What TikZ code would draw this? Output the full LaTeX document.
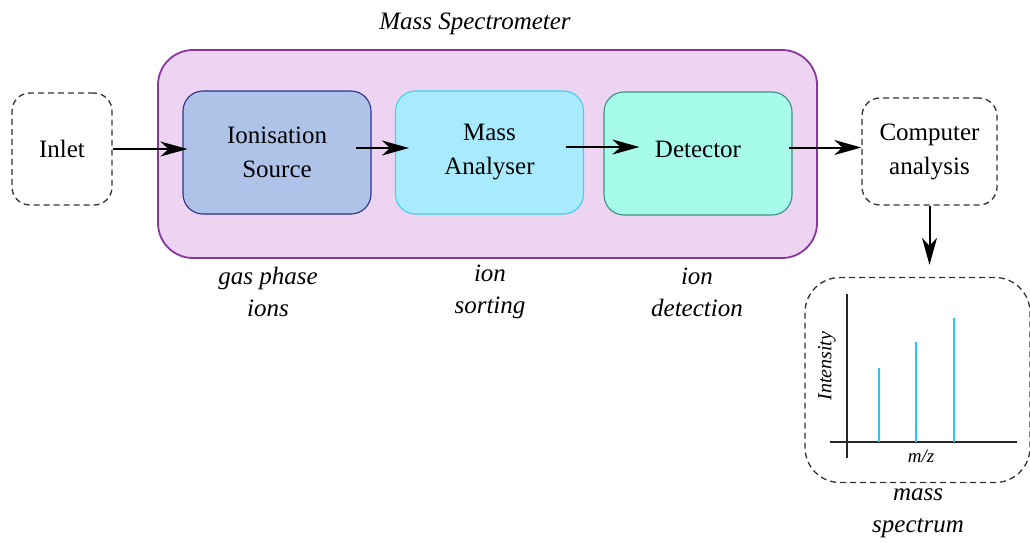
\documentclass[tikz,border=0pt]{standalone}
\usepackage{fontspec}
\setmainfont{Liberation Serif}
\usepackage{xcolor}
\usetikzlibrary{arrows.meta,positioning,calc}

\definecolor{specfill}{HTML}{EDD5F2}
\definecolor{specdraw}{HTML}{8B34A0}
\definecolor{srcfill}{HTML}{AEC3E7}
\definecolor{srcdraw}{HTML}{2E2E8E}
\definecolor{anafill}{HTML}{A9EBFE}
\definecolor{anadraw}{HTML}{3FCFF5}
\definecolor{detfill}{HTML}{A6FBEA}
\definecolor{detdraw}{HTML}{3C8F86}
\definecolor{peak}{HTML}{22C8F8}

\begin{document}
\begin{tikzpicture}[
    >={Stealth[length=27pt,width=15pt,inset=8pt]},
    x=1pt, y=-1pt,
    stage/.style={draw,rounded corners=20pt,minimum width=188pt,minimum height=123pt,
                  inner sep=0pt,line width=1.1pt,align=center,
                  font=\fontsize{25}{34}\selectfont},
    srcbox/.style={stage,fill=srcfill,draw=srcdraw},
    anabox/.style={stage,fill=anafill,draw=anadraw},
    detbox/.style={stage,fill=detfill,draw=detdraw},
    outbox/.style={draw=black!80,dashed,dash pattern=on 6pt off 4pt,line width=1.3pt,
                   rounded corners=18pt,inner sep=0pt,align=center,
                   font=\fontsize{25}{34}\selectfont},
    note/.style={align=center,font=\fontsize{25}{32}\itshape\selectfont},
    flow/.style={->,line width=2pt},
  ]
  \useasboundingbox (0,0) rectangle (1030,542);

  % --- the instrument ---
  \node[draw=specdraw,fill=specfill,line width=1.8pt,rounded corners=35pt,
        minimum width=659pt,minimum height=208pt] (ms) at (487.5,154) {};
  \node[note] (mslabel) at (475,24) {Mass Spectrometer};

  \node[srcbox] (src) at (277,152.5) {Ionisation\\Source};
  \node[anabox] (ana) at (489.5,152.5) {Mass\\Analyser};
  \node[detbox,text depth=9pt] (det) at (698,153.5) {Detector};

  % --- outside the instrument ---
  \node[outbox,minimum width=100pt,minimum height=112pt] (inlet) at (62,149) {Inlet};
  \node[outbox,minimum width=135pt,minimum height=107pt] (comp) at (929.5,151.5)
       {Computer\\analysis};
  \node[outbox,rounded corners=35pt,minimum width=225pt,minimum height=205pt]
       (spec) at (917.5,380) {};

  % --- what each stage does ---
  \node[note] (ions) at (268,292) {gas phase\\ions};
  \node[note] (sort) at (490,292) {ion\\sorting};
  \node[note] (dets) at (697,292) {ion\\detection};
  \node[note] (spname) at (918,513) {mass\\spectrum};

  % --- the spectrum ---
  \coordinate (ytop) at (847,294);
  \coordinate (ybot) at (847,458);
  \coordinate (xl) at (830,442);
  \coordinate (xr) at (1017,442);
  \draw[line width=1.5pt,black!85] (ytop) -- (ybot);
  \draw[line width=1.5pt,black!85] (xl) -- (xr);
  \foreach \px/\py in {879/368, 916/342, 954/318}
    \draw[peak,line width=2.2pt] (\px,442) -- (\px,\py);
  \node[rotate=90,font=\fontsize{20}{24}\itshape\selectfont] (ylab) at (827,366) {Intensity};
  \node[font=\fontsize{19}{22}\itshape\selectfont] (xlab) at (921,456) {m/z};

  % --- sample flow ---
  \draw[flow,shorten >=-5pt] (inlet.east) -- (inlet.east -| src.west);
  \draw[flow,shorten <=-16pt,shorten >=-14pt] ([yshift=4.5pt]src.east) -- ([yshift=4.5pt]src.east -| ana.west);
  \draw[flow,shorten <=-18pt,shorten >=-36pt] ([yshift=5.5pt]ana.east) -- ([yshift=5.5pt]ana.east -| det.west);
  \draw[flow,shorten <=-4pt] ([yshift=6pt]det.east) -- ([yshift=6pt]det.east -| comp.west);
  \draw[flow,shorten >=12pt] (comp.south) -- (comp.south |- spec.north);

\end{tikzpicture}
\end{document}
